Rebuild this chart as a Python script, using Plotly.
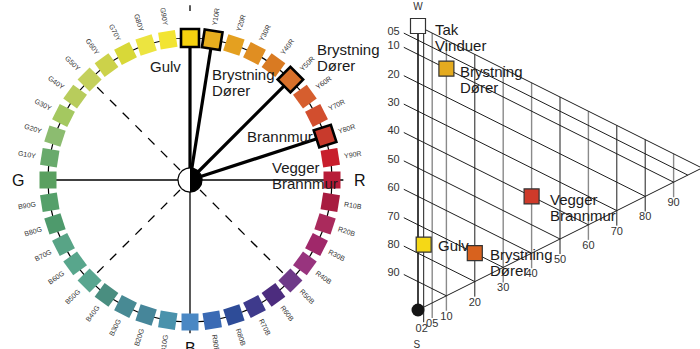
import numpy as np
import plotly.graph_objects as go

# ---------------- data: NCS hue circle ----------------
HUES = ["Y", "Y10R", "Y20R", "Y30R", "Y40R", "Y50R", "Y60R", "Y70R", "Y80R", "Y90R",
        "R", "R10B", "R20B", "R30B", "R40B", "R50B", "R60B", "R70B", "R80B", "R90B",
        "B", "B10G", "B20G", "B30G", "B40G", "B50G", "B60G", "B70G", "B80G", "B90G",
        "G", "G10Y", "G20Y", "G30Y", "G40Y", "G50Y", "G60Y", "G70Y", "G80Y", "G90Y"]
HUE_COLORS = ["#f5d20f", "#e6ae1e", "#e4a020", "#e08e22", "#d97a22", "#d8702a", "#d65e2e", "#d24e2e", "#c83a2c", "#c81e2c",
              "#b81c38", "#a81c40", "#aa2a5c", "#a0286a", "#98347e", "#6e3a88", "#4c2c7e", "#3e3a8c", "#2e4c98", "#3a6ab4",
              "#4a88c4", "#4a92ac", "#46869a", "#488a94", "#4a8e80", "#5aa690", "#58a68c", "#58a486", "#4e9a6c", "#55a06a",
              "#5aa060", "#68aa6c", "#8cbc70", "#a4c860", "#b8cc5c", "#c4d05c", "#ccd24a", "#d8d838", "#ece440", "#f2e432"]
ELEMENTARY = ["Y", "R", "B", "G"]
SELECTED_HUES = ["Y", "Y10R", "Y50R", "Y80R"]
DASHED_HUES = ["G50Y", "R50B", "B50G"]
CIRCLE_NOTES = [(["Gulv"], -0.296, 0.796),
                (["Brystning", "Dører"], 0.141, 0.686),
                (["Brystning", "Dører"], 0.880, 0.866),
                (["Brannmur"], 0.387, 0.303),
                (["Vegger", "Brannmur"], 0.563, 0.035)]

# ---------------- data: NCS triangle ----------------
S_TICKS = [5, 10, 20, 30, 40, 50, 60, 70, 80, 90]
S_TICK_LABELS = ["05", "10", "20", "30", "40", "50", "60", "70", "80", "90"]
C_TICKS = [2, 5, 10, 20, 30, 40, 50, 60, 70, 80, 90]
C_TICK_LABELS = ["02", "05", "10", "20", "30", "40", "50", "60", "70", "80", "90"]
C_LINE_GRAY = [False, True, True, False, True, True, False, True, False, False, True]
SAMPLE_LINES = [["Tak", "Vinduer"], ["Brystning", "Dører"], ["Vegger", "Brannmur"], ["Gulv"], ["Brystning", "Dører"]]
SAMPLE_S = [0, 10, 40, 76, 70]
SAMPLE_C = [0, 10, 40, 2, 20]
SAMPLE_COLORS = ["#ffffff", "#e4ab1f", "#cf3a2a", "#f5d816", "#d8621e"]
SAMPLE_SHIFT = [(15, -3), (12, -3), (16, -3), (12, -1), (13, -1)]
CHROMATIC_COLOR = "#c8882c"

FONT = "Liberation Sans"
fig = go.Figure()

# ---------- circle (x / y axes, radius = 1) ----------
ang = np.deg2rad(90 - 9 * np.arange(len(HUES)))
hx, hy = np.cos(ang), np.sin(ang)
idx = {h: i for i, h in enumerate(HUES)}

def seg(r0, r1, h):
    i = idx[h]
    return [r0 * hx[i], r1 * hx[i], None], [r0 * hy[i], r1 * hy[i], None]

# axis lines
fig.add_trace(go.Scatter(x=[-1, 1.08, None, 0, 0, None, 0, 0], y=[0, 0, None, 0, -1.08, None, 1.19, 1.23],
                         mode="lines", line=dict(color="black", width=1.3), hoverinfo="skip"))
# dashed
dx, dy = [], []
for h in DASHED_HUES:
    a, b = seg(0.1, 0.93, h); dx += a; dy += b
fig.add_trace(go.Scatter(x=dx, y=dy, mode="lines", line=dict(color="black", width=1.3, dash="dash"), hoverinfo="skip"))
# thick
tx, ty = [], []
for h in SELECTED_HUES:
    a, b = seg(0, 0.94, h); tx += a; ty += b
fig.add_trace(go.Scatter(x=tx, y=ty, mode="lines", line=dict(color="black", width=3.2), hoverinfo="skip"))

# ring
fig.add_shape(type="circle", xref="x", yref="y", x0=-1, y0=-1, x1=1, y1=1,
              line=dict(color="black", width=1.2), layer="below")

# hue squares
fig.add_trace(go.Scatter(x=hx, y=hy, mode="markers",
                         marker=dict(symbol="square", size=17, color=HUE_COLORS,
                                     angle=list(9 * np.arange(len(HUES))), line=dict(width=0)),
                         hoverinfo="skip"))
sel = [idx[h] for h in SELECTED_HUES]
fig.add_trace(go.Scatter(x=hx[sel], y=hy[sel], mode="markers",
                         marker=dict(symbol="square", size=18, color=[HUE_COLORS[i] for i in sel],
                                     angle=[9 * i for i in sel], line=dict(width=2.6, color="black")),
                         hoverinfo="skip"))

# centre disc: left half white, right half black
rc = 0.085
t = np.linspace(-np.pi / 2, np.pi / 2, 40)
fig.add_trace(go.Scatter(x=-rc * np.cos(t), y=rc * np.sin(t), fill="toself", mode="lines",
                         fillcolor="white", line=dict(color="black", width=1.2), hoverinfo="skip"))
fig.add_trace(go.Scatter(x=rc * np.cos(t), y=rc * np.sin(t), fill="toself", mode="lines",
                         fillcolor="black", line=dict(color="black", width=1.2), hoverinfo="skip"))

annotations = []
for i, h in enumerate(HUES):
    if h in ELEMENTARY:
        continue
    th = (90 - 9 * i + 180) % 360 - 180
    if -90 < th < 90:
        ta = -th
    else:
        ta = (180 - th + 180) % 360 - 180
    annotations.append(dict(x=1.165 * hx[i], y=1.165 * hy[i], xref="x", yref="y", text=h, showarrow=False,
                            textangle=ta, font=dict(family=FONT, size=7, color="#333")))
for h, r in zip(ELEMENTARY[1:], [1.2, 1.185, 1.21]):
    i = idx[h]
    annotations.append(dict(x=r * hx[i], y=r * hy[i], xref="x", yref="y", text=h, showarrow=False,
                            font=dict(family=FONT, size=16, color="#111")))
for lines, x0, y0 in CIRCLE_NOTES:
    n = len(lines)
    for k, line in enumerate(lines):
        annotations.append(dict(x=x0, y=y0, xref="x", yref="y", text=line, showarrow=False, xanchor="left",
                                yshift=(n - 1) * 8 - 16 * k, font=dict(family=FONT, size=15, color="#1a1a1a")))

# ---------- triangle (x2 = chromaticness, y2 = blackness + c/2) ----------
def tv(s, c):
    return s + c / 2.0

lx, ly = [], []
lx += [0, 100, None, 0, 100, None]
ly += [0, 50, None, 100, 50, None]
for s in S_TICKS:
    lx += [-5, 100 - s, None]
    ly += [tv(s, -5), tv(s, 100 - s), None]
gx, gy = [], []
for c, g in zip(C_TICKS, C_LINE_GRAY):
    xs = [c, c, None]
    ys = [tv(0, c), tv(100 - c, c) + 5.3, None]
    if g:
        gx += xs; gy += ys
    else:
        lx += xs; ly += ys
fig.add_trace(go.Scatter(x=gx, y=gy, xaxis="x2", yaxis="y2", mode="lines",
                         line=dict(color="#8a8a8a", width=1.4), hoverinfo="skip"))
fig.add_trace(go.Scatter(x=lx, y=ly, xaxis="x2", yaxis="y2", mode="lines",
                         line=dict(color="#1e1e1e", width=1), hoverinfo="skip"))
fig.add_trace(go.Scatter(x=[0, 0], y=[0, 100], xaxis="x2", yaxis="y2", mode="lines",
                         line=dict(color="#111", width=1.6), hoverinfo="skip"))

# tick labels
fig.add_trace(go.Scatter(x=[-8.6] * len(S_TICKS), y=[s - 2.8 for s in S_TICKS], xaxis="x2", yaxis="y2",
                         mode="text", text=S_TICK_LABELS, textfont=dict(family=FONT, size=11, color="#333"),
                         cliponaxis=False, hoverinfo="skip"))
cy = [tv(100 - c, c) + 7.5 for c in C_TICKS]
cx = list(C_TICKS)
cx[0] = 1.3
cy[0] = 106.7
fig.add_trace(go.Scatter(x=cx, y=cy, xaxis="x2", yaxis="y2",
                         mode="text", text=C_TICK_LABELS, textfont=dict(family=FONT, size=11, color="#333"),
                         cliponaxis=False, hoverinfo="skip"))
fig.add_trace(go.Scatter(x=[0, -0.4], y=[-6.4, 112.5], xaxis="x2", yaxis="y2",
                         mode="text", text=["W", "S"], textfont=dict(family=FONT, size=10, color="#333"),
                         cliponaxis=False, hoverinfo="skip"))

# S point and chromatic point
fig.add_trace(go.Scatter(x=[0], y=[tv(100, 0)], xaxis="x2", yaxis="y2", mode="markers",
                         marker=dict(size=13, color="#151515"), cliponaxis=False, hoverinfo="skip"))
fig.add_trace(go.Scatter(x=[100], y=[tv(0, 100)], xaxis="x2", yaxis="y2", mode="markers",
                         marker=dict(size=14, color=CHROMATIC_COLOR, line=dict(color="#6a4a18", width=0.8)),
                         cliponaxis=False, hoverinfo="skip"))

# samples
fig.add_trace(go.Scatter(x=SAMPLE_C, y=[tv(s, c) for s, c in zip(SAMPLE_S, SAMPLE_C)], xaxis="x2", yaxis="y2",
                         mode="markers", cliponaxis=False, hoverinfo="skip",
                         marker=dict(symbol="square", size=15, color=SAMPLE_COLORS,
                                     line=dict(color="#333", width=1.2))))
for lines, s, c, (xs, ys) in zip(SAMPLE_LINES, SAMPLE_S, SAMPLE_C, SAMPLE_SHIFT):
    for k, line in enumerate(lines):
        annotations.append(dict(x=c, y=tv(s, c), xref="x2", yref="y2", text=line, showarrow=False,
                                xanchor="left", xshift=xs, yshift=ys - 16 * k,
                                font=dict(family=FONT, size=15, color="#1a1a1a")))

fig.update_layout(
    width=700, height=349, margin=dict(l=0, r=0, t=0, b=0),
    paper_bgcolor="white", plot_bgcolor="white", showlegend=False,
    xaxis=dict(domain=[0, 380 / 700], range=[-190 / 142, 190 / 142], visible=False, fixedrange=True),
    yaxis=dict(domain=[0, 1], range=[-(349 - 180) / 142, 180 / 142], visible=False, fixedrange=True),
    xaxis2=dict(domain=[380 / 700, 1], range=[-38 / 2.84, 282 / 2.84], visible=False, anchor="y2", fixedrange=True),
    yaxis2=dict(domain=[0, 1], range=[(349 - 26) / 2.84, -26 / 2.84], visible=False, anchor="x2", fixedrange=True),
    annotations=annotations,
)
fig.write_html("out.html", config={"displayModeBar": False},
               post_script="document.body.style.margin='0';document.body.style.overflow='hidden';")
